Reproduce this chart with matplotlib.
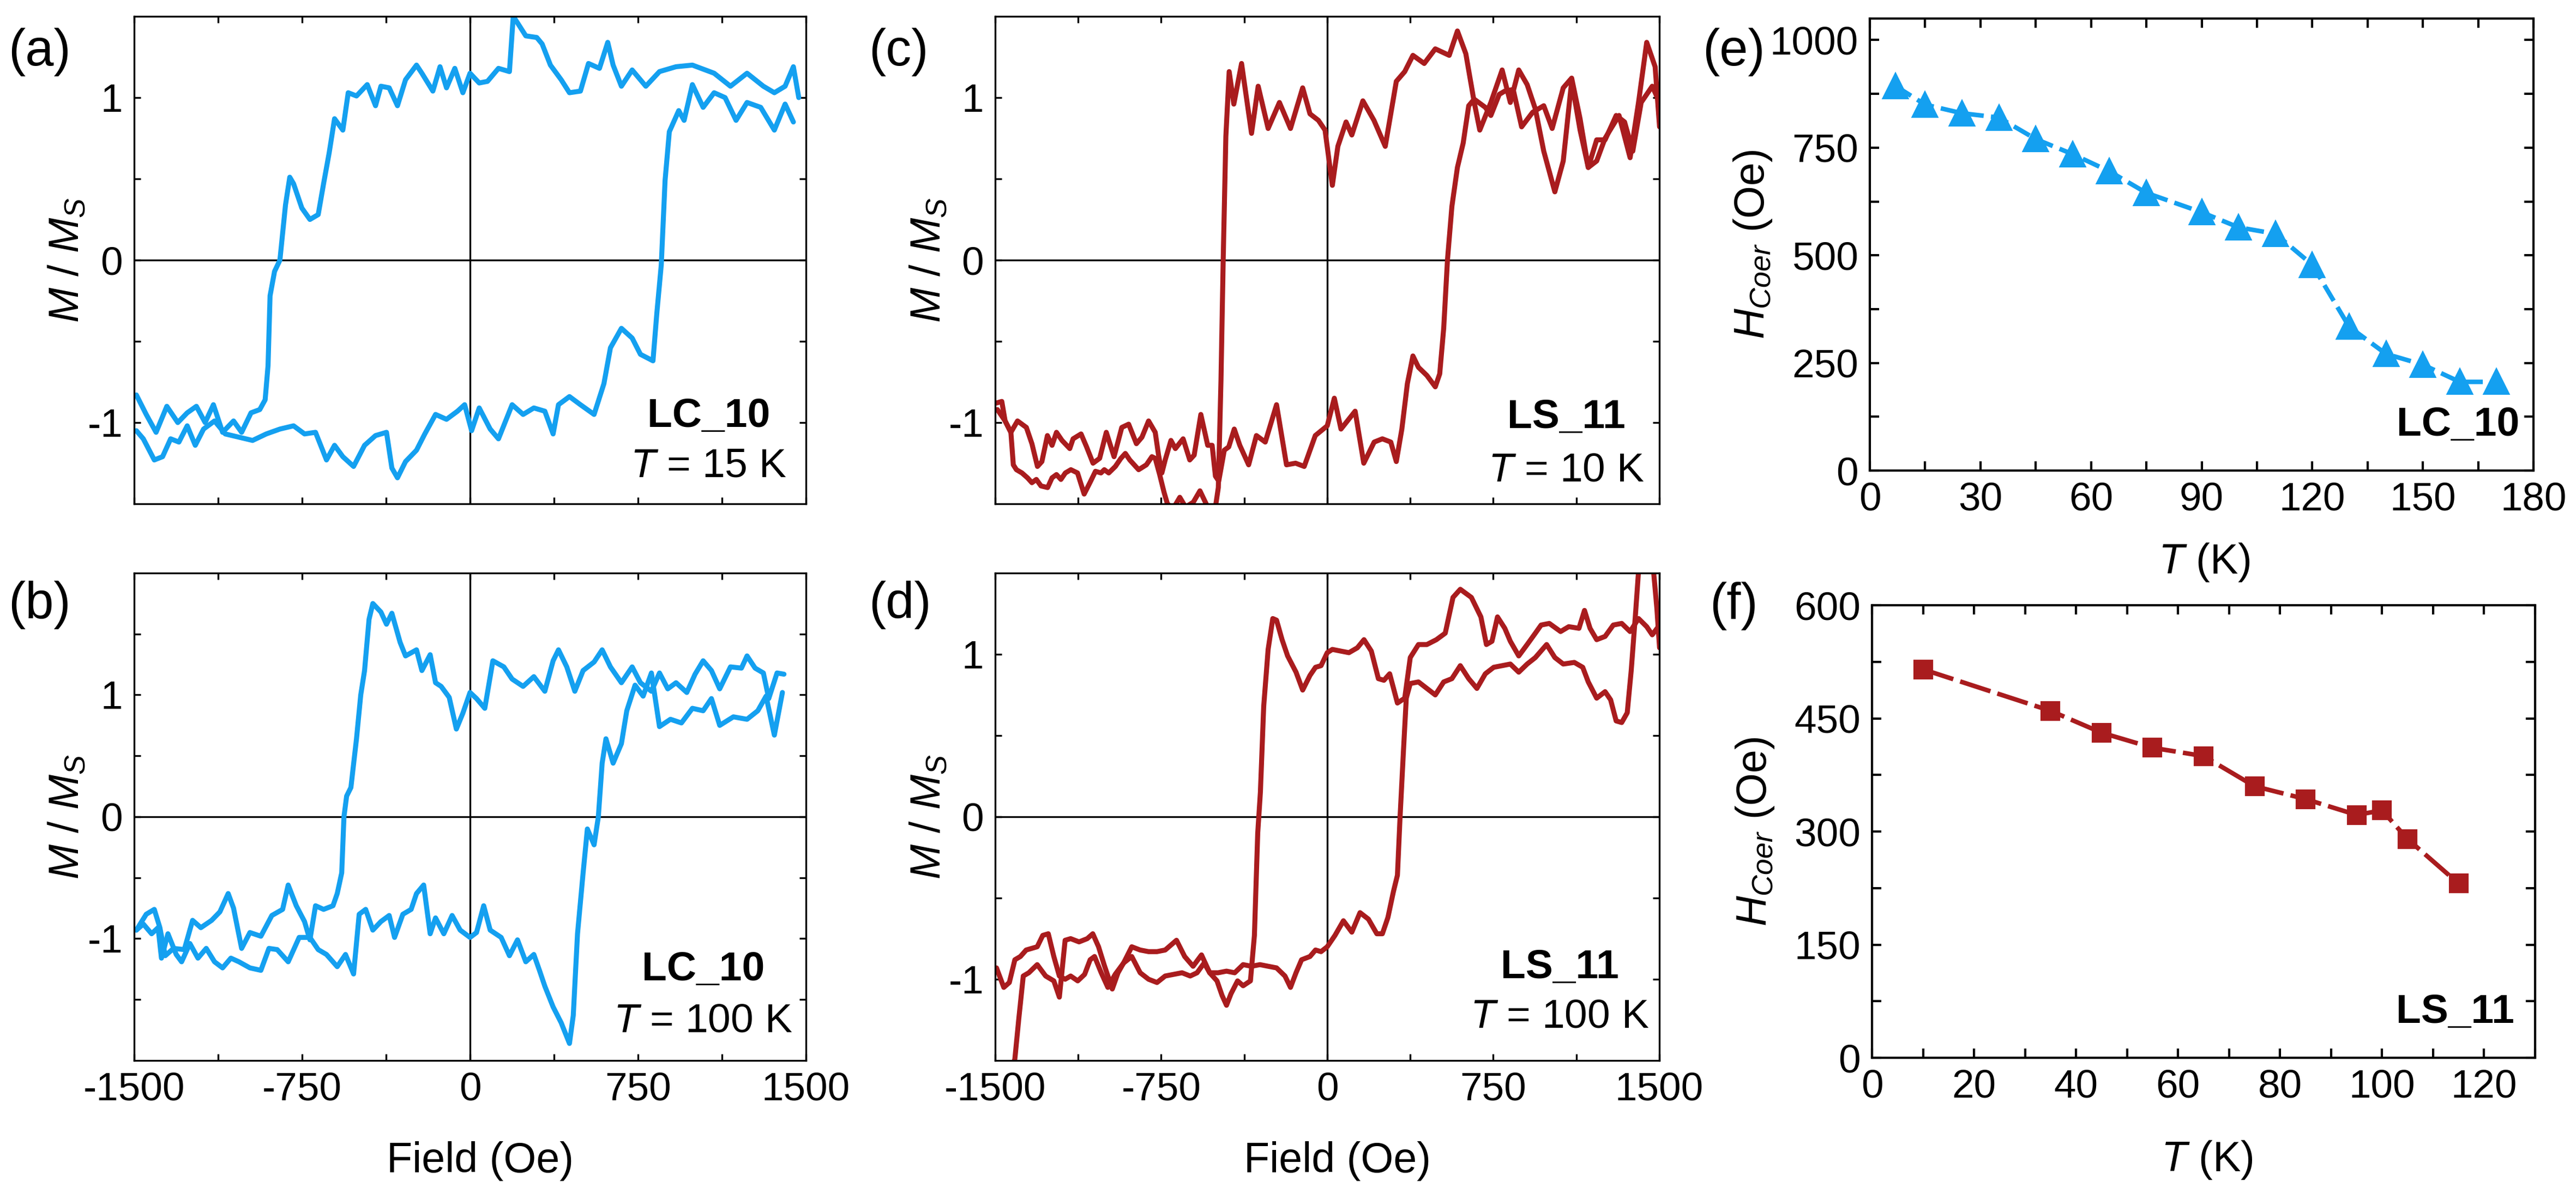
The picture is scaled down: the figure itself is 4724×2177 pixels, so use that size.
import numpy as np
import matplotlib
matplotlib.use('Agg')
import matplotlib.pyplot as plt
from matplotlib.ticker import FixedLocator, MultipleLocator

plt.rcParams['font.family'] = 'Liberation Sans'
plt.rcParams['mathtext.fontset'] = 'custom'
plt.rcParams['mathtext.it'] = 'Liberation Sans:italic'
plt.rcParams['mathtext.rm'] = 'Liberation Sans'
plt.rcParams['mathtext.bf'] = 'Liberation Sans:bold'
plt.rcParams['axes.unicode_minus'] = False

# hysteresis loops, (field in Oe, M/Ms)
a_down = [(1468,1.00),(1444,1.19),(1407,1.07),(1359,1.03),(1310,1.07),(1237,1.15),(1163,1.07),(1090,1.15),(993,1.20),(920,1.19),(846,1.16),(785,1.07),(724,1.17),(676,1.07),(639,1.20),(615,1.34),(578,1.18),(529,1.21),(493,1.04),(444,1.03),(407,1.11),(359,1.20),(322,1.33),(298,1.37),(249,1.38),(212,1.46),(193,1.50),(176,1.16),(127,1.18),(78,1.10),(41,1.09),(0,1.15),(-32,1.03),(-68,1.18),(-105,1.06),(-134,1.19),(-166,1.04),(-215,1.15),(-239,1.20),(-288,1.11),(-324,0.95),(-361,1.06),(-398,1.07),(-422,0.95),(-459,1.08),(-507,1.01),(-544,1.03),(-568,0.80),(-605,0.87),(-629,0.66),(-654,0.47),(-678,0.28),(-715,0.25),(-751,0.32),(-788,0.47),(-805,0.51),(-824,0.34),(-849,0.00),(-873,-0.07),(-893,-0.22),(-902,-0.65),(-915,-0.86),(-939,-0.92),(-978,-0.94),(-1020,-1.06),(-1056,-0.99),(-1105,-1.06),(-1146,-0.89),(-1183,-1.00),(-1222,-0.90),(-1263,-0.94),(-1305,-1.00),(-1354,-0.90),(-1402,-1.06),(-1446,-0.95),(-1490,-0.83)]
a_up = [(-1490,-1.05),(-1459,-1.10),(-1410,-1.23),(-1373,-1.21),(-1337,-1.10),(-1300,-1.12),(-1263,-1.02),(-1227,-1.14),(-1190,-1.04),(-1141,-0.99),(-1093,-1.07),(-1032,-1.09),(-971,-1.11),(-910,-1.07),(-849,-1.04),(-788,-1.02),(-739,-1.07),(-690,-1.06),(-641,-1.23),(-605,-1.14),(-568,-1.21),(-520,-1.27),(-471,-1.14),(-422,-1.08),(-373,-1.06),(-349,-1.28),(-324,-1.34),(-288,-1.24),(-239,-1.17),(-202,-1.07),(-154,-0.95),(-105,-0.98),(-56,-0.93),(-24,-0.89),(7,-1.05),(41,-0.91),(90,-1.04),(127,-1.10),(188,-0.89),(237,-0.95),(285,-0.91),(334,-0.93),(371,-1.07),(395,-0.89),(444,-0.84),(493,-0.89),(554,-0.95),(598,-0.76),(627,-0.54),(676,-0.42),(724,-0.48),(761,-0.58),(817,-0.62),(834,-0.33),(854,-0.03),(871,0.49),(890,0.79),(932,0.92),(956,0.86),(993,1.08),(1041,0.94),(1090,1.03),(1139,1.00),(1188,0.86),(1237,0.97),(1298,0.94),(1359,0.80),(1407,0.96),(1444,0.85)]

b_down = [(1402,1.17),(1371,1.18),(1334,0.97),(1310,1.18),(1273,1.22),(1237,1.32),(1212,1.22),(1163,1.23),(1115,1.05),(1078,1.20),(1041,1.28),(1005,1.17),(968,1.02),(920,1.10),(883,1.05),(846,1.18),(810,1.03),(761,1.10),(724,1.23),(676,1.10),(627,1.23),(590,1.37),(554,1.27),(505,1.20),(468,1.03),(432,1.23),(395,1.37),(371,1.28),(334,1.03),(285,1.15),(237,1.07),(188,1.13),(151,1.23),(102,1.28),(66,0.89),(29,0.97),(0,1.02),(-32,0.85),(-61,0.72),(-93,0.98),(-129,1.07),(-154,1.10),(-178,1.33),(-215,1.20),(-239,1.37),(-288,1.32),(-312,1.43),(-349,1.67),(-373,1.58),(-398,1.68),(-434,1.75),(-451,1.62),(-471,1.20),(-488,1.00),(-507,0.64),(-532,0.24),(-551,0.17),(-563,0.00),(-573,-0.46),(-593,-0.63),(-612,-0.73),(-654,-0.76),(-690,-0.73),(-715,-1.01),(-739,-0.86),(-776,-0.73),(-812,-0.56),(-837,-0.76),(-885,-0.81),(-934,-0.98),(-983,-0.95),(-1020,-1.08),(-1056,-0.75),(-1080,-0.63),(-1117,-0.78),(-1154,-0.85),(-1202,-0.91),(-1239,-0.85),(-1276,-1.09),(-1324,-1.08),(-1361,-1.14),(-1385,-0.91),(-1410,-0.76),(-1446,-0.80),(-1490,-0.93)]
b_up = [(-1490,-0.93),(-1459,-0.88),(-1422,-0.96),(-1393,-0.91),(-1378,-1.16),(-1349,-0.96),(-1312,-1.13),(-1288,-1.19),(-1251,-1.04),(-1215,-1.16),(-1178,-1.08),(-1141,-1.19),(-1105,-1.24),(-1068,-1.16),(-1032,-1.19),(-983,-1.24),(-934,-1.26),(-898,-1.08),(-861,-1.09),(-812,-1.19),(-763,-0.99),(-715,-0.99),(-678,-1.09),(-641,-1.13),(-593,-1.23),(-556,-1.13),(-520,-1.29),(-495,-0.80),(-466,-0.76),(-434,-0.93),(-398,-0.86),(-361,-0.81),(-337,-0.99),(-300,-0.80),(-263,-0.76),(-239,-0.63),(-207,-0.56),(-178,-0.96),(-154,-0.83),(-117,-0.96),(-80,-0.81),(-44,-0.93),(0,-0.99),(29,-0.95),(61,-0.73),(90,-0.93),(139,-0.99),(176,-1.14),(212,-1.01),(249,-1.19),(285,-1.13),(310,-1.26),(334,-1.39),(371,-1.56),(407,-1.69),(444,-1.86),(461,-1.63),(480,-0.96),(505,-0.46),(524,-0.10),(554,-0.23),(573,0.00),(590,0.44),(607,0.64),(639,0.44),(676,0.60),(700,0.87),(737,1.08),(773,0.99),(810,1.18),(846,0.74),(895,0.80),(944,0.77),(993,0.89),(1041,0.87),(1078,0.97),(1115,0.75),(1176,0.82),(1237,0.80),(1285,0.87),(1322,0.99),(1359,0.67),(1395,1.02)]

c_down = [(1501,0.82),(1481,1.19),(1443,1.34),(1406,0.97),(1368,0.63),(1318,0.89),(1255,0.75),(1217,0.61),(1179,0.57),(1142,0.80),(1104,1.10),(1066,0.61),(1028,0.42),(978,0.67),(940,0.93),(903,1.08),(865,1.17),(827,0.97),(790,1.17),(739,0.97),(689,0.80),(664,0.97),(626,1.27),(588,1.41),(551,1.26),(488,1.30),(438,1.21),(387,1.26),(350,1.16),(312,1.10),(262,0.70),(211,0.86),(161,0.98),(111,0.77),(85,0.85),(48,0.70),(23,0.46),(-10,0.80),(-40,0.86),(-78,0.90),(-111,1.06),(-166,0.81),(-216,0.97),(-267,0.81),(-312,1.07),(-342,0.78),(-387,1.21),(-422,0.96),(-443,1.16),(-458,0.76),(-470,0.00),(-480,-0.74),(-492,-1.40),(-505,-1.52),(-540,-1.52),(-575,-1.42),(-605,-1.49),(-640,-1.52),(-666,-1.46),(-696,-1.53),(-722,-1.50),(-737,-1.43),(-757,-1.32),(-777,-1.22),(-792,-1.21),(-817,-1.26),(-852,-1.29),(-892,-1.23),(-912,-1.19),(-932,-1.22),(-957,-1.27),(-987,-1.31),(-1007,-1.29),(-1022,-1.31),(-1047,-1.30),(-1072,-1.37),(-1098,-1.44),(-1128,-1.31),(-1158,-1.29),(-1183,-1.31),(-1203,-1.35),(-1223,-1.32),(-1243,-1.34),(-1263,-1.40),(-1293,-1.39),(-1314,-1.35),(-1334,-1.37),(-1354,-1.34),(-1379,-1.31),(-1404,-1.29),(-1418,-1.26),(-1429,-1.06),(-1455,-0.99),(-1490,-0.92)]
c_up = [(-1495,-0.88),(-1470,-0.87),(-1455,-0.99),(-1429,-1.06),(-1399,-0.99),(-1359,-1.03),(-1334,-1.13),(-1309,-1.27),(-1289,-1.24),(-1264,-1.08),(-1243,-1.14),(-1223,-1.06),(-1198,-1.11),(-1163,-1.16),(-1148,-1.10),(-1112,-1.07),(-1087,-1.15),(-1058,-1.25),(-1028,-1.22),(-998,-1.06),(-963,-1.21),(-928,-1.03),(-897,-1.01),(-862,-1.13),(-837,-1.09),(-807,-0.99),(-777,-1.06),(-762,-1.20),(-747,-1.31),(-732,-1.23),(-706,-1.11),(-686,-1.16),(-651,-1.10),(-621,-1.23),(-601,-1.20),(-571,-0.95),(-540,-1.14),(-520,-1.14),(-505,-1.33),(-490,-1.36),(-465,-1.17),(-445,-1.15),(-420,-1.04),(-395,-1.14),(-355,-1.26),(-320,-1.08),(-280,-1.12),(-229,-0.89),(-184,-1.26),(-143,-1.25),(-104,-1.27),(-54,-1.08),(0,-1.02),(32,-0.85),(62,-1.04),(126,-0.93),(165,-1.25),(212,-1.12),(249,-1.10),(287,-1.12),(312,-1.24),(337,-1.04),(362,-0.76),(387,-0.59),(412,-0.66),(450,-0.71),(488,-0.78),(508,-0.70),(526,-0.42),(543,0.00),(563,0.33),(588,0.57),(614,0.72),(639,0.95),(664,0.99),(714,0.94),(739,0.89),(777,1.02),(802,1.04),(840,1.05),(878,0.82),(928,0.91),(978,0.95),(1016,0.81),(1066,1.06),(1104,1.12),(1142,0.87),(1179,0.57),(1217,0.74),(1255,0.74),(1305,0.89),(1343,0.85),(1380,0.67),(1418,0.97),(1468,1.07),(1501,0.97)]

d_down = [(1501,1.18),(1468,1.12),(1443,1.17),(1406,1.22),(1368,1.14),(1330,1.19),(1292,1.18),(1255,1.11),(1217,1.09),(1187,1.16),(1162,1.27),(1137,1.16),(1091,1.17),(1054,1.14),(1003,1.19),(966,1.18),(940,1.13),(903,1.06),(865,0.99),(827,1.08),(802,1.16),(769,1.23),(744,1.08),(719,1.06),(694,1.23),(651,1.35),(601,1.40),(568,1.35),(533,1.13),(493,1.09),(450,1.06),(412,1.06),(375,0.98),(350,0.73),(317,0.70),(282,0.88),(256,0.84),(231,0.85),(199,1.02),(166,1.09),(136,1.04),(98,1.01),(60,1.02),(23,1.03),(0,1.01),(-28,0.93),(-53,0.92),(-78,0.87),(-111,0.78),(-141,0.89),(-179,0.99),(-204,1.09),(-229,1.21),(-246,1.22),(-267,1.03),(-287,0.68),(-302,0.15),(-314,-0.10),(-329,-0.73),(-347,-1.01),(-380,-1.04),(-405,-1.01),(-435,-1.09),(-455,-1.16),(-475,-1.10),(-498,-1.01),(-531,-0.96),(-556,-0.90),(-588,-0.96),(-619,-0.98),(-656,-0.96),(-694,-0.97),(-732,-0.98),(-769,-1.02),(-807,-1.00),(-845,-0.96),(-883,-0.86),(-920,-0.90),(-958,-0.97),(-991,-1.05),(-1021,-0.96),(-1051,-0.86),(-1071,-0.88),(-1096,-0.97),(-1127,-1.01),(-1159,-0.98),(-1184,-1.00),(-1210,-0.98),(-1235,-0.86),(-1260,-0.72),(-1285,-0.73),(-1310,-0.80),(-1335,-0.81),(-1360,-0.82),(-1386,-0.86),(-1411,-0.88),(-1436,-1.02),(-1461,-1.05),(-1494,-0.93)]
d_up = [(-1499,-1.85),(-1448,-1.69),(-1411,-1.49),(-1393,-1.24),(-1373,-0.98),(-1348,-0.96),(-1310,-0.91),(-1272,-0.98),(-1235,-1.01),(-1210,-1.11),(-1184,-0.76),(-1159,-0.75),(-1121,-0.77),(-1084,-0.75),(-1059,-0.72),(-1033,-0.80),(-1008,-0.91),(-971,-1.06),(-945,-0.96),(-920,-0.90),(-883,-0.80),(-845,-0.82),(-807,-0.83),(-769,-0.83),(-732,-0.82),(-681,-0.76),(-644,-0.86),(-606,-0.92),(-568,-0.85),(-531,-0.96),(-493,-0.96),(-455,-0.95),(-418,-0.96),(-380,-0.91),(-342,-0.92),(-304,-0.91),(-267,-0.92),(-229,-0.93),(-191,-0.98),(-166,-1.05),(-141,-0.96),(-116,-0.88),(-78,-0.86),(-53,-0.82),(-28,-0.83),(0,-0.80),(35,-0.73),(73,-0.64),(111,-0.71),(148,-0.59),(186,-0.63),(224,-0.72),(249,-0.72),(274,-0.62),(299,-0.46),(317,-0.36),(329,0.00),(344,0.40),(357,0.73),(375,0.82),(412,0.83),(450,0.79),(488,0.75),(526,0.83),(563,0.85),(601,0.93),(639,0.85),(676,0.79),(714,0.88),(752,0.92),(790,0.93),(827,0.94),(865,0.89),(903,0.94),(940,0.98),(991,1.06),(1028,0.98),(1066,0.94),(1116,0.95),(1154,0.92),(1179,0.83),(1217,0.73),(1255,0.77),(1280,0.72),(1305,0.59),(1330,0.58),(1355,0.64),(1373,0.90),(1393,1.26),(1406,1.51),(1431,1.61),(1456,1.61),(1474,1.51),(1489,1.28),(1501,1.04)]

# coercive field vs temperature
T_lc = [7, 15, 25, 35, 45, 55, 65, 75, 90, 100, 110, 120, 130, 140, 150, 160, 170]
H_lc = [893, 850, 830, 820, 770, 735, 695, 645, 600, 565, 550, 478, 334, 271, 246, 206, 206]
T_ls = [10, 35, 45, 55, 65, 75, 85, 95, 100, 105, 115]
H_ls = [515, 460, 431, 411, 400, 360, 343, 322, 328, 290, 231]

blue = '#14A0F0'
red = '#A91C1E'

fig = plt.figure(figsize=(4724/300, 2177/300), dpi=300)


def style(ax, lw=0.8, tl=2.8):
    ax.tick_params(which='both', direction='in', top=True, right=True,
                   length=tl, width=lw, labelsize=17.5, pad=5)
    for s in ax.spines.values():
        s.set_linewidth(lw)


def loop_panel(rect, branches, color, ylim, yminor, name, temp, txy, show_x):
    ax = fig.add_axes(rect)
    ax.axhline(0, color='k', lw=0.8, zorder=1)
    ax.axvline(0, color='k', lw=0.8, zorder=1)
    for br in branches:
        h, m = np.array(br).T
        ax.plot(h, m, color=color, lw=2.2, zorder=2, solid_joinstyle='round',
                solid_capstyle='round')
    ax.set_xlim(-1500, 1500)
    ax.set_ylim(-ylim, ylim)
    ax.xaxis.set_major_locator(FixedLocator([-1500, -750, 0, 750, 1500]))
    ax.xaxis.set_minor_locator(FixedLocator([-1125, -375, 375, 1125]))
    ax.yaxis.set_major_locator(FixedLocator([-1, 0, 1]))
    ax.yaxis.set_minor_locator(FixedLocator(yminor))
    style(ax)
    ax.set_ylabel(r'$M$ / $M_S$', fontsize=18.5)
    ax.yaxis.set_label_coords(-0.07, 0.5)
    if show_x:
        ax.set_xlabel('Field (Oe)', fontsize=18.5)
        ax.xaxis.set_label_coords(0.515, -0.166)
    else:
        ax.tick_params(labelbottom=False)
    ax.text(txy[0], txy[1], name, transform=ax.transAxes, ha='center',
            va='baseline', fontsize=18, fontweight='bold')
    ax.text(txy[0], txy[2], r'$T$ = %d K' % temp, transform=ax.transAxes,
            ha='center', va='baseline', fontsize=18)
    return ax


loop_panel([0.05207, 0.57556, 0.26079, 0.41066], [a_down, a_up], blue, 1.5,
           [-0.5, 0.5], 'LC_10', 15, (0.855, 0.158, 0.055), False)
loop_panel([0.05207, 0.10657, 0.26079, 0.41066], [b_down, b_up], blue, 2.0,
           [-1.5, -0.5, 0.5, 1.5], 'LC_10', 100, (0.847, 0.164, 0.059), True)
loop_panel([0.38632, 0.57556, 0.25783, 0.41066], [c_down, c_up], red, 1.5,
           [-0.5, 0.5], 'LS_11', 10, (0.860, 0.155, 0.046), False)
loop_panel([0.38632, 0.10657, 0.25783, 0.41066], [d_down, d_up], red, 1.5,
           [-0.5, 0.5], 'LS_11', 100, (0.850, 0.169, 0.068), True)

# (e) coercive field LC_10
ax = fig.add_axes([0.72587, 0.60358, 0.25762, 0.38080])
ax.plot(T_lc, H_lc, color=blue, lw=2.0, ls=(0, (4, 1.6)), marker='^', ms=10.5,
        mec=blue, mfc=blue)
ax.set_xlim(0, 180)
ax.set_ylim(0, 1050)
ax.xaxis.set_major_locator(MultipleLocator(30))
ax.xaxis.set_minor_locator(MultipleLocator(15))
ax.yaxis.set_major_locator(FixedLocator([0, 250, 500, 750, 1000]))
ax.yaxis.set_minor_locator(FixedLocator([125, 375, 625, 875]))
style(ax, lw=1.0, tl=4.0)
ax.set_xlabel(r'$T$ (K)', fontsize=18.5)
ax.xaxis.set_label_coords(0.504, -0.157)
ax.set_ylabel(r'$H_{Coer}$ (Oe)', fontsize=18.5)
ax.yaxis.set_label_coords(-0.145, 0.5)
ax.text(0.979, 0.077, 'LC_10', transform=ax.transAxes, ha='right',
        va='baseline', fontsize=18, fontweight='bold')

# (f) coercive field LS_11
ax = fig.add_axes([0.72671, 0.10886, 0.25741, 0.38126])
ax.plot(T_ls, H_ls, color=red, lw=2.0, ls=(0, (7, 1.6)), marker='s', ms=7.5,
        mec=red, mfc=red)
ax.set_xlim(0, 130)
ax.set_ylim(0, 600)
ax.xaxis.set_major_locator(FixedLocator([0, 20, 40, 60, 80, 100, 120]))
ax.xaxis.set_minor_locator(FixedLocator([10, 30, 50, 70, 90, 110, 130]))
ax.yaxis.set_major_locator(MultipleLocator(150))
ax.yaxis.set_minor_locator(MultipleLocator(75))
style(ax, lw=1.0, tl=4.0)
ax.set_xlabel(r'$T$ (K)', fontsize=18.5)
ax.xaxis.set_label_coords(0.505, -0.18)
ax.set_ylabel(r'$H_{Coer}$ (Oe)', fontsize=18.5)
ax.yaxis.set_label_coords(-0.145, 0.5)
ax.text(0.969, 0.077, 'LS_11', transform=ax.transAxes, ha='right',
        va='baseline', fontsize=18, fontweight='bold')

# panel letters
for lab, x, y in [('(a)', 15, 95), ('(b)', 15, 1110), ('(c)', 1593, 95),
                  ('(d)', 1593, 1110), ('(e)', 3122, 95), ('(f)', 3135, 1112)]:
    fig.text(x / 4724, 1 - y / 2177, lab, fontsize=22.5, ha='left', va='center')

fig.savefig('out.png', dpi=300)
